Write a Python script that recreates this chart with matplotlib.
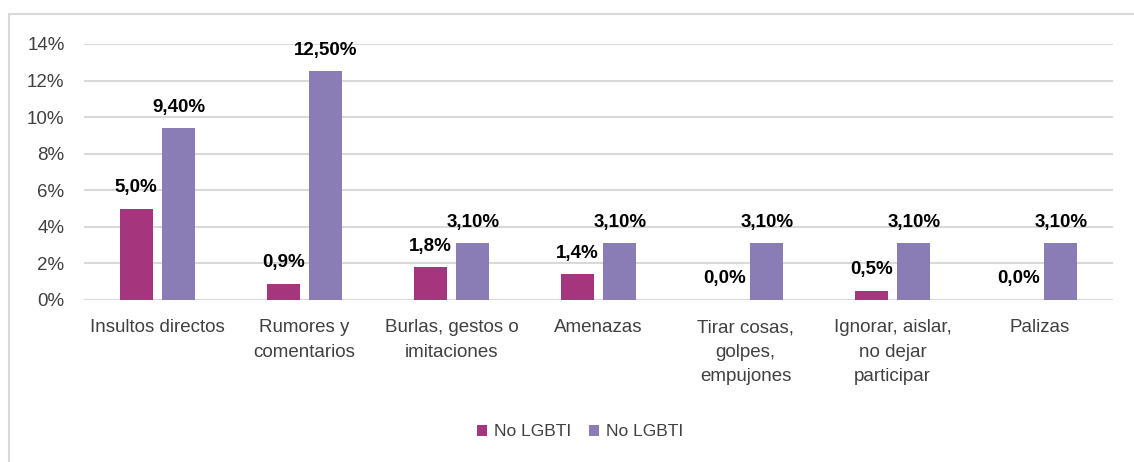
import matplotlib
matplotlib.use("Agg")
import matplotlib.pyplot as plt
import numpy as np
from matplotlib.patches import Rectangle

categories = ["Insultos directos", "Rumores y\ncomentarios", "Burlas, gestos o\nimitaciones",
              "Amenazas", "Tirar cosas,\ngolpes,\nempujones", "Ignorar, aislar,\nno dejar\nparticipar",
              "Palizas"]
series1_name = "No LGBTI"
series2_name = "No LGBTI"
series1 = [5.0, 0.9, 1.8, 1.4, 0.0, 0.5, 0.0]
series2 = [9.40, 12.50, 3.10, 3.10, 3.10, 3.10, 3.10]
labels1 = ["5,0%", "0,9%", "1,8%", "1,4%", "0,0%", "0,5%", "0,0%"]
labels2 = ["9,40%", "12,50%", "3,10%", "3,10%", "3,10%", "3,10%", "3,10%"]
yticks = [0, 2, 4, 6, 8, 10, 12, 14]

plt.rcParams['font.family'] = ['Liberation Sans', 'DejaVu Sans']

W, H = 1134, 462
fig = plt.figure(figsize=(W / 100, H / 100), dpi=100)
fig.patches.append(Rectangle((9 / W, -0.1), 1.2, 1 - 14 / H + 0.1, transform=fig.transFigure,
                             fill=False, edgecolor="#d9d9d9", linewidth=1.5))

ax = fig.add_axes([84 / W, 1 - 300 / H, (1113 - 84) / W, (300 - 44) / H])
x = np.arange(len(categories))
bw = 0.225
off = 0.145
c1 = "#A5367D"
c2 = "#8A7CB4"
fs = 13.5
b1 = ax.bar(x - off, series1, bw, color=c1, label=series1_name, zorder=3)
b2 = ax.bar(x + off, series2, bw, color=c2, label=series2_name, zorder=3)

for xi, v, t in zip(x, series1, labels1):
    ax.annotate(t, (xi - off, v), xytext=(0, 9), textcoords="offset points",
                ha="center", va="bottom", fontsize=fs, fontweight="bold", color="#000000")
for xi, v, t in zip(x, series2, labels2):
    ax.annotate(t, (xi + off, v), xytext=(0, 9), textcoords="offset points",
                ha="center", va="bottom", fontsize=fs, fontweight="bold", color="#000000")

ax.set_xlim(-0.5, len(categories) - 0.5)
ax.set_ylim(0, 14)
ax.set_yticks(yticks)
ax.set_yticklabels([f"{t}%" for t in yticks], fontsize=fs, color="#404040")
ax.set_xticks(x)
ax.set_xticklabels(categories, fontsize=fs, color="#404040", va="top", linespacing=1.55)
ax.tick_params(axis="both", length=0)
ax.tick_params(axis="y", pad=14)
ax.tick_params(axis="x", pad=14)
ax.grid(axis="y", color="#d9d9d9", linewidth=1.5, zorder=0)
for s in ["top", "right", "left", "bottom"]:
    ax.spines[s].set_visible(False)
ax.axhline(0, color="#d9d9d9", linewidth=1.5, zorder=1)

fig.legend(handles=[b1, b2], labels=[series1_name, series2_name], loc="center",
           bbox_to_anchor=(580 / W, 1 - 432 / H), ncol=2, frameon=False, fontsize=12.5,
           handlelength=0.6, handleheight=0.6, handletextpad=0.4, columnspacing=1.0,
           labelcolor="#404040")

fig.savefig("out.png", dpi=100)
